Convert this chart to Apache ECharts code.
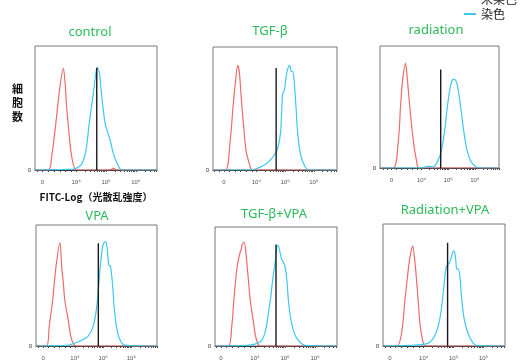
<!DOCTYPE html>
<html><head><meta charset="utf-8">
<script src="https://cdn.jsdelivr.net/npm/echarts@6/dist/echarts.min.js"></script>
<style>html,body{margin:0;padding:0;background:#fff}#c{width:531px;height:361px}</style>
</head><body><div id="c"></div>
<script>
const panelNames = ['control','TGF-β','radiation','VPA','TGF-β+VPA','Radiation+VPA'];
const xMin = [2.62,2.49,2.44,2.62,2.67,2.64];
const xMax = [6.71,6.81,6.91,6.91,6.73,6.72];
const tickValues = [2.87,4,5,6];
const tickText = ['0','10⁴','10⁵','10⁶'];

const redControl = [[3.07,0],[3.18,11],[3.32,38],[3.44,64],[3.57,82],[3.63,70],[3.68,51],[3.76,30],[3.85,11],[4.02,0],[5.15,0],[5.25,1.5],[5.35,0]];
const cyanControl = [[3.68,0.5],[3.96,1],[4.19,5],[4.33,16],[4.44,38],[4.56,59],[4.66,78],[4.71,82.5],[4.78,78],[4.86,59],[4.97,38],[5.14,24],[5.25,13],[5.42,3],[5.53,0]];
const redTGF = [[2.92,0],[3.09,24],[3.19,52],[3.27,71],[3.35,85],[3.41,79],[3.48,57],[3.56,35],[3.64,16],[3.77,4],[3.85,0]];
const cyanTGF = [[3.79,0],[4.20,3],[4.49,8],[4.72,16],[4.84,30],[4.89,52],[4.92,62],[4.98,65],[5.01,71],[5.07,80],[5.16,85],[5.22,80],[5.27,80],[5.32,71],[5.38,52],[5.44,30],[5.53,14],[5.65,5],[5.82,0]];
const redRad = [[2.94,0],[3.13,22.7],[3.21,50],[3.29,72],[3.40,85.8],[3.46,74.8],[3.56,50],[3.69,22.7],[3.81,6.3],[3.91,0]];
const cyanRad = [[4.0,0],[4.25,1.4],[4.45,1],[4.62,6.3],[4.75,14.5],[4.87,31],[4.97,50],[5.06,64],[5.15,72],[5.22,72.6],[5.31,70.7],[5.40,61],[5.50,44.7],[5.60,28.2],[5.71,14.5],[5.87,4.9],[6.06,0.8],[6.2,0]];
const redVPA = [[2.99,0],[3.09,16.4],[3.21,38],[3.33,65.8],[3.47,85.5],[3.53,65.8],[3.59,52],[3.64,38],[3.76,22],[3.88,5.5],[4.06,0]];
const cyanVPA = [[3.70,0.5],[4.17,4],[4.47,8.2],[4.65,16.4],[4.76,30],[4.85,52],[4.92,71],[4.98,82],[5.02,85],[5.09,86.3],[5.15,79.5],[5.20,67],[5.26,65.8],[5.33,52],[5.39,33],[5.47,16.4],[5.59,5.5],[5.76,0.8]];
const redTV = [[3.11,0],[3.23,17.2],[3.30,39.4],[3.41,67.2],[3.50,78.3],[3.54,81.1],[3.58,85.3],[3.64,87.2],[3.70,78.3],[3.76,61.7],[3.84,39.4],[3.95,20],[4.04,6.1],[4.17,0]];
const cyanTV = [[3.73,0.5],[4.17,3.3],[4.34,11.7],[4.45,28.3],[4.53,42],[4.59,56],[4.67,70],[4.73,84],[4.77,84.4],[4.84,78],[4.89,72.8],[4.95,70],[5.00,67],[5.06,56],[5.11,39.4],[5.19,22.8],[5.34,8.9],[5.50,3.3],[5.67,0.5]];
const redRV = [[3.11,0],[3.27,12.1],[3.38,39],[3.50,65.9],[3.55,73.9],[3.63,82],[3.72,65.9],[3.81,39],[3.88,17.5],[3.97,4],[4.05,0]];
const cyanRV = [[3.5,0.5],[4.11,1.9],[4.33,6.7],[4.50,17.5],[4.61,33.6],[4.68,49.7],[4.75,64.5],[4.83,67.2],[4.91,71.2],[4.97,76.6],[5.02,78],[5.07,71.2],[5.11,63],[5.16,63],[5.22,55],[5.27,39],[5.35,22.8],[5.46,12.1],[5.61,4],[5.77,0.5]];
const gateX = [4.69,4.69,4.72,4.83,4.70,4.80];
const gateH = [82.5,83,80.8,85,85.3,84.7];

const redAll = [redControl,redTGF,redRad,redVPA,redTV,redRV];
const cyanAll = [cyanControl,cyanTGF,cyanRad,cyanVPA,cyanTV,cyanRV];

const grids = [
  {left:35,top:46,width:122,height:124},
  {left:213,top:47,width:124,height:123},
  {left:380,top:46,width:119,height:122},
  {left:36,top:225,width:121,height:122},
  {left:215,top:227,width:122,height:120},
  {left:383,top:224,width:122,height:124}
];
const titlePos = [[90,26],[270,25],[436,24],[97,210],[274,208],[445,204]];

const minorTicks = [];
[2.55,2.7,2.87,3.05,3.25,3.45,3.65,3.85].forEach(v=>minorTicks.push(v));
[4,5,6].forEach(d=>{for(let k=1;k<10;k++) minorTicks.push(d+Math.log10(k));});

const chart = echarts.init(document.getElementById('c'));
const xAxes=[], yAxes=[], series=[], titles=[];
grids.forEach((g,i)=>{
  Object.assign(g,{show:true,borderColor:'#777',borderWidth:1,containLabel:false});
  xAxes.push({
    type:'value', gridIndex:i, min:xMin[i], max:xMax[i],
    axisLine:{show:true,onZero:false,lineStyle:{color:'#333',width:1}},
    axisTick:{show:true,customValues:minorTicks,length:2,lineStyle:{color:'#444'}},
    axisLabel:{customValues:tickValues,fontSize:6,color:'#555',margin:9,
      formatter:v=>tickText[tickValues.indexOf(v)] ?? ''},
    splitLine:{show:false},
    name: i===0 ? 'FITC-Log（光散乱強度）' : '',
    nameLocation:'middle', nameGap:22,
    nameTextStyle:{fontSize:10,fontWeight:'bold',color:'#111',fontFamily:'Noto Sans CJK JP'}
  });
  yAxes.push({
    type:'value', gridIndex:i, min:0, max:100,
    axisLine:{show:false}, axisTick:{show:false}, splitLine:{show:false},
    axisLabel:{customValues:[0],fontSize:6,color:'#333',margin:4}
  });
  titles.push({text:panelNames[i],left:titlePos[i][0],top:titlePos[i][1],textAlign:'center',padding:0,
    textStyle:{color:'#2dba5a',fontSize:13,fontWeight:'normal',fontFamily:'Noto Sans'}});
  const withBase = arr => [[xMin[i],0],...arr,[xMax[i],0]];
  series.push({name:'未染色',type:'line',xAxisIndex:i,yAxisIndex:i,data:withBase(redAll[i]),
    showSymbol:false,symbol:'none',smooth:0.3,lineStyle:{color:'#f06a6a',width:1.2},itemStyle:{color:'#f06a6a'},z:3});
  series.push({name:'染色',type:'line',xAxisIndex:i,yAxisIndex:i,data:withBase(cyanAll[i]),
    showSymbol:false,symbol:'none',smooth:0.3,lineStyle:{color:'#3cc8f0',width:1.2},itemStyle:{color:'#3cc8f0'},z:4});
  series.push({name:'gate',type:'line',xAxisIndex:i,yAxisIndex:i,data:[[gateX[i],0],[gateX[i],gateH[i]]],
    showSymbol:false,symbol:'none',lineStyle:{color:'#1a1a1a',width:1.4},z:5});
});
titles.push({text:'細\n胞\n数',left:12,top:82,padding:0,
  textStyle:{fontSize:11,fontWeight:'bold',color:'#111',lineHeight:14,fontFamily:'Noto Sans CJK JP'}});

chart.setOption({
  animation:false,
  title:titles,
  legend:{data:['未染色','染色'],orient:'vertical',left:458,top:-12,itemWidth:12,itemHeight:2,itemGap:3,
    textStyle:{fontSize:12,color:'#222',fontFamily:'Noto Sans CJK JP'}},
  grid:grids, xAxis:xAxes, yAxis:yAxes, series:series
});
</script></body></html>
